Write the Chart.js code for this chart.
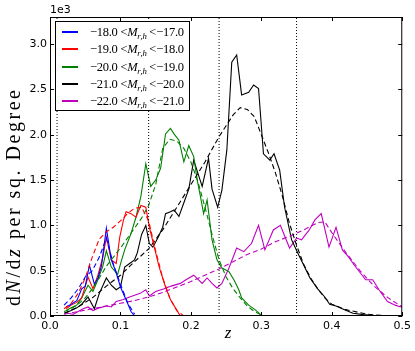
<!DOCTYPE html>
<html>
<head>
<meta charset="utf-8">
<script src="https://cdn.jsdelivr.net/npm/chart.js@4.4.1/dist/chart.umd.min.js"></script>
<style>
  html, body { margin: 0; padding: 0; background: #fff; }
  #wrap { width: 415px; height: 351px; position: relative; }
</style>
</head>
<body>
<div id="wrap"><canvas id="myChart"></canvas></div>
<script>
// axis ticks
const xTicks = [0.0, 0.1, 0.2, 0.3, 0.4, 0.5];
const yTicks = [0.0, 0.5, 1.0, 1.5, 2.0, 2.5, 3.0];
// vertical dotted redshift cuts
const cutZ = [0.01, 0.14, 0.24, 0.35];

// legend ranges (upper / lower magnitude)
const magLow = ['\u221218.0', '\u221219.0', '\u221220.0', '\u221221.0', '\u221222.0'];
const magHigh = ['\u221217.0', '\u221218.0', '\u221219.0', '\u221220.0', '\u221221.0'];
const colors = ['#0000ff', '#ff0000', '#008000', '#000000', '#bf00bf'];

// measured counts (units of 1e3)
const blueZ = [0.023, 0.03, 0.038, 0.045, 0.05, 0.056, 0.063, 0.068, 0.073, 0.08, 0.087, 0.093, 0.1, 0.108, 0.115, 0.12];
const blueN = [0.10, 0.13, 0.17, 0.30, 0.33, 0.56, 0.35, 0.42, 0.55, 0.97, 0.62, 0.50, 0.32, 0.18, 0.05, 0.0];
const redZ = [0.023, 0.03, 0.038, 0.045, 0.054, 0.061, 0.068, 0.075, 0.08, 0.087, 0.094, 0.099, 0.104, 0.108, 0.115, 0.122, 0.129, 0.136, 0.141, 0.148, 0.155, 0.164, 0.171, 0.178, 0.185];
const redN = [0.08, 0.12, 0.15, 0.2, 0.43, 0.3, 0.45, 0.65, 0.87, 0.62, 0.58, 0.87, 1.05, 1.15, 1.13, 1.09, 1.22, 1.2, 0.98, 0.76, 0.54, 0.32, 0.18, 0.09, 0.0];
const greenZ = [0.023, 0.03, 0.038, 0.045, 0.054, 0.061, 0.068, 0.075, 0.08, 0.087, 0.096, 0.101, 0.106, 0.115, 0.122, 0.129, 0.136, 0.143, 0.15, 0.157, 0.164, 0.171, 0.176, 0.183, 0.19, 0.197, 0.204, 0.209, 0.214, 0.218, 0.223, 0.23, 0.237, 0.244, 0.254, 0.261, 0.268, 0.272, 0.282, 0.291, 0.3];
const greenN = [0.06, 0.09, 0.12, 0.2, 0.34, 0.27, 0.4, 0.55, 0.72, 0.54, 0.46, 0.6, 0.73, 0.91, 1.09, 1.32, 1.68, 1.43, 1.5, 1.63, 2.01, 2.07, 2.01, 1.94, 1.7, 1.88, 1.76, 1.5, 1.3, 1.13, 1.28, 0.84, 0.62, 0.53, 0.49, 0.4, 0.29, 0.2, 0.12, 0.07, 0.01];
const blackZ = [0.021, 0.03, 0.038, 0.045, 0.054, 0.063, 0.07, 0.08, 0.087, 0.094, 0.1, 0.106, 0.113, 0.12, 0.124, 0.13, 0.136, 0.141, 0.146, 0.153, 0.16, 0.164, 0.171, 0.176, 0.183, 0.19, 0.197, 0.204, 0.211, 0.216, 0.225, 0.23, 0.238, 0.244, 0.251, 0.258, 0.265, 0.272, 0.282, 0.289, 0.296, 0.303, 0.312, 0.318, 0.326, 0.333, 0.343, 0.352, 0.359, 0.369, 0.38, 0.39, 0.397, 0.406, 0.418, 0.43, 0.445, 0.46, 0.475];
const blackN = [0.03, 0.06, 0.09, 0.13, 0.21, 0.08, 0.25, 0.42, 0.34, 0.29, 0.32, 0.54, 0.58, 0.62, 0.7, 0.9, 1.0, 0.8, 0.76, 0.86, 0.98, 1.13, 1.15, 1.17, 1.1, 1.25, 1.4, 1.72, 1.55, 1.43, 1.74, 1.4, 1.2, 1.39, 1.83, 2.8, 2.88, 2.44, 2.47, 2.55, 2.51, 1.79, 1.72, 1.79, 1.61, 1.2, 0.84, 0.69, 0.58, 0.42, 0.3, 0.21, 0.13, 0.11, 0.07, 0.03, 0.015, 0.005, 0.0];
const magZ = [0.024, 0.033, 0.04, 0.047, 0.054, 0.061, 0.07, 0.08, 0.087, 0.094, 0.103, 0.113, 0.12, 0.128, 0.136, 0.141, 0.15, 0.162, 0.172, 0.185, 0.193, 0.204, 0.216, 0.223, 0.23, 0.237, 0.244, 0.254, 0.265, 0.275, 0.286, 0.296, 0.305, 0.317, 0.327, 0.34, 0.35, 0.357, 0.368, 0.376, 0.385, 0.396, 0.406, 0.415, 0.424, 0.432, 0.44, 0.448, 0.458, 0.467, 0.479, 0.49, 0.498];
const magN = [0.03, 0.02, 0.05, 0.08, 0.1, 0.06, 0.09, 0.11, 0.1, 0.16, 0.18, 0.21, 0.23, 0.25, 0.29, 0.22, 0.27, 0.3, 0.33, 0.36, 0.4, 0.45, 0.36, 0.42, 0.36, 0.31, 0.36, 0.53, 0.75, 0.71, 0.8, 1.0, 0.73, 0.95, 1.0, 0.75, 0.86, 0.84, 0.95, 1.06, 1.13, 0.76, 0.98, 0.73, 0.65, 0.56, 0.48, 0.4, 0.4, 0.29, 0.16, 0.12, 0.1];

// smooth fits (dashed)
const blueFitZ = [0.02, 0.03, 0.04, 0.05, 0.06, 0.07, 0.08, 0.09, 0.10, 0.11, 0.12];
const blueFitN = [0.12, 0.2, 0.3, 0.43, 0.5, 0.65, 0.86, 0.57, 0.35, 0.15, 0.02];
const redFitZ = [0.02, 0.03, 0.04, 0.05, 0.06, 0.07, 0.08, 0.09, 0.10, 0.11, 0.12, 0.13, 0.14, 0.15, 0.16, 0.17, 0.18, 0.19];
const redFitN = [0.08, 0.14, 0.25, 0.42, 0.65, 0.85, 0.93, 0.98, 1.05, 1.13, 1.19, 1.2, 1.05, 0.72, 0.42, 0.2, 0.06, 0.0];
const greenFitZ = [0.02, 0.03, 0.04, 0.05, 0.06, 0.07, 0.08, 0.09, 0.10, 0.11, 0.12, 0.13, 0.14, 0.15, 0.16, 0.17, 0.18, 0.19, 0.20, 0.21, 0.22, 0.23, 0.24, 0.25, 0.26, 0.27, 0.28, 0.29, 0.30];
const greenFitN = [0.05, 0.08, 0.13, 0.2, 0.3, 0.42, 0.55, 0.65, 0.75, 0.86, 0.97, 1.08, 1.22, 1.45, 1.85, 1.95, 1.93, 1.85, 1.7, 1.48, 1.2, 0.9, 0.62, 0.43, 0.3, 0.2, 0.11, 0.05, 0.01];
const blackFitZ = [0.02, 0.04, 0.06, 0.08, 0.10, 0.12, 0.14, 0.16, 0.18, 0.20, 0.22, 0.24, 0.25, 0.26, 0.27, 0.28, 0.29, 0.30, 0.31, 0.32, 0.33, 0.34, 0.35, 0.36, 0.37, 0.38, 0.39, 0.40, 0.42, 0.45, 0.48];
const blackFitN = [0.03, 0.1, 0.2, 0.33, 0.45, 0.6, 0.74, 0.95, 1.2, 1.45, 1.7, 1.98, 2.1, 2.22, 2.3, 2.28, 2.2, 2.0, 1.8, 1.58, 1.32, 1.02, 0.78, 0.57, 0.42, 0.3, 0.2, 0.13, 0.07, 0.02, 0.0];
const magFitZ = [0.02, 0.04, 0.06, 0.08, 0.10, 0.12, 0.14, 0.16, 0.18, 0.20, 0.22, 0.24, 0.26, 0.28, 0.30, 0.32, 0.34, 0.36, 0.38, 0.39, 0.40, 0.42, 0.44, 0.46, 0.48, 0.50];
const magFitN = [0.02, 0.05, 0.08, 0.11, 0.14, 0.17, 0.21, 0.26, 0.32, 0.38, 0.45, 0.52, 0.6, 0.68, 0.74, 0.82, 0.88, 0.95, 1.03, 1.04, 0.92, 0.7, 0.5, 0.33, 0.2, 0.1];

function pts(zs, ns) {
    return zs.map((z, i) => ({ x: z, y: ns[i] }));
}

const measured = [[blueZ, blueN], [redZ, redN], [greenZ, greenN], [blackZ, blackN], [magZ, magN]];
const fits = [[blueFitZ, blueFitN], [redFitZ, redFitN], [greenFitZ, greenFitN], [blackFitZ, blackFitN], [magFitZ, magFitN]];

const datasets = [];
cutZ.forEach(z => {
    datasets.push({
        data: [{ x: z, y: 0 }, { x: z, y: 3.3 }],
        borderColor: '#000', borderWidth: 1, borderDash: [1, 2], pointRadius: 0
    });
});
fits.forEach((f, i) => {
    datasets.push({
        data: pts(f[0], f[1]),
        borderColor: colors[i], borderWidth: 1.1, borderDash: [5, 3], pointRadius: 0, tension: 0
    });
});
measured.forEach((m, i) => {
    datasets.push({
        data: pts(m[0], m[1]),
        borderColor: colors[i], borderWidth: 1.1, pointRadius: 0, tension: 0
    });
});

// draw a run of text pieces char by char, spreading spare room to reach a target width
function drawPieces(ctx, pieces, x, y, size, family, targetW) {
    const chars = [];
    pieces.forEach(p => {
        const s = p.sub ? size * 0.7 : size;
        const font = (p.it ? 'italic ' : '') + s + 'px ' + family;
        ctx.font = font;
        for (const ch of p.t) {
            chars.push({ ch: ch, font: font, w: ctx.measureText(ch).width, dy: p.sub ? size * 0.25 : 0 });
        }
    });
    const w = chars.reduce((t, c) => t + c.w, 0);
    const gap = targetW ? (targetW - w) / (chars.length - 1) : 0;
    let cx = x;
    chars.forEach(c => {
        ctx.font = c.font;
        ctx.fillText(c.ch, cx, y + c.dy);
        cx += c.w + gap;
    });
}

const serif = '"Liberation Serif"';

const deco = {
    id: 'deco',
    afterDraw(chart) {
        const ctx = chart.ctx;
        const a = chart.chartArea;
        const xs = chart.scales.x, ys = chart.scales.y;
        ctx.save();
        ctx.strokeStyle = '#000';
        ctx.lineWidth = 1;
        ctx.setLineDash([]);
        // frame
        ctx.strokeRect(a.left + 0.5, a.top + 0.5, a.right - a.left - 1, a.bottom - a.top - 1);
        // inward ticks on all four sides
        ctx.beginPath();
        xTicks.forEach(v => {
            const px = Math.round(xs.getPixelForValue(v)) + 0.5;
            ctx.moveTo(px, a.bottom); ctx.lineTo(px, a.bottom - 4);
            ctx.moveTo(px, a.top); ctx.lineTo(px, a.top + 4);
        });
        yTicks.forEach(v => {
            const py = Math.round(ys.getPixelForValue(v)) + 0.5;
            ctx.moveTo(a.left, py); ctx.lineTo(a.left + 4, py);
            ctx.moveTo(a.right, py); ctx.lineTo(a.right - 4, py);
        });
        ctx.stroke();

        // offset text
        ctx.fillStyle = '#000';
        ctx.textBaseline = 'alphabetic';
        ctx.textAlign = 'left';
        ctx.font = '11px "DejaVu Sans"';
        ctx.fillText('1e3', a.left, a.top - 4);

        // legend
        const lx = 55, ly = 21, lw = 134, lh = 89;
        ctx.fillStyle = '#fff';
        ctx.fillRect(lx, ly, lw, lh);
        ctx.strokeStyle = '#000';
        ctx.strokeRect(lx + 0.5, ly + 0.5, lw, lh);
        for (let i = 0; i < colors.length; i++) {
            const yy = ly + 11 + i * 17.3;
            ctx.fillStyle = colors[i];
            ctx.fillRect(62, Math.round(yy) - 1, 16, 2);
            ctx.fillStyle = '#000';
            drawPieces(ctx, [
                { t: magLow[i] }, { t: ' <' }, { t: 'M', it: true }, { t: 'r,h', it: true, sub: true },
                { t: ' <' }, { t: magHigh[i] }
            ], 90, yy + 4, 12.5, serif, 94);
        }

        // axis titles
        ctx.fillStyle = '#000';
        ctx.save();
        ctx.translate(20, 306);
        ctx.rotate(-Math.PI / 2);
        drawPieces(ctx, [
            { t: 'd' }, { t: 'N', it: true }, { t: '/d' }, { t: 'z', it: true }, { t: ' per sq. Degree' }
        ], 0, 0, 20, serif, 216);
        ctx.restore();
        ctx.font = 'italic 17px ' + serif;
        ctx.textAlign = 'center';
        ctx.fillText('z', 228, 338);
        ctx.restore();
    }
};

const ctx = document.getElementById('myChart').getContext('2d');
const chart = new Chart(ctx, {
    type: 'line',
    data: { datasets: datasets },
    options: {
        responsive: true,
        maintainAspectRatio: false,
        animation: false,
        devicePixelRatio: 1,
        layout: { padding: { top: 17, right: 10, left: 0, bottom: 0 } },
        plugins: { legend: { display: false }, tooltip: { enabled: false } },
        elements: { line: { fill: false } },
        scales: {
            x: {
                type: 'linear', min: 0, max: 0.5,
                grid: { display: false, drawTicks: false },
                border: { display: false },
                afterBuildTicks: s => { s.ticks = xTicks.map(v => ({ value: v })); },
                afterFit: s => { s.height = 35; },
                ticks: {
                    padding: 4, color: '#000', maxRotation: 0,
                    font: { family: 'DejaVu Sans', size: 11 },
                    callback: v => Number(v).toFixed(1)
                }
            },
            y: {
                type: 'linear', min: 0, max: 3.3,
                grid: { display: false, drawTicks: false },
                border: { display: false },
                afterBuildTicks: s => { s.ticks = yTicks.map(v => ({ value: v })); },
                afterFit: s => { s.width = 50; },
                ticks: {
                    padding: 3, color: '#000',
                    font: { family: 'DejaVu Sans', size: 11 },
                    callback: v => Number(v).toFixed(1)
                }
            }
        }
    },
    plugins: [deco]
});
</script>
</body>
</html>
